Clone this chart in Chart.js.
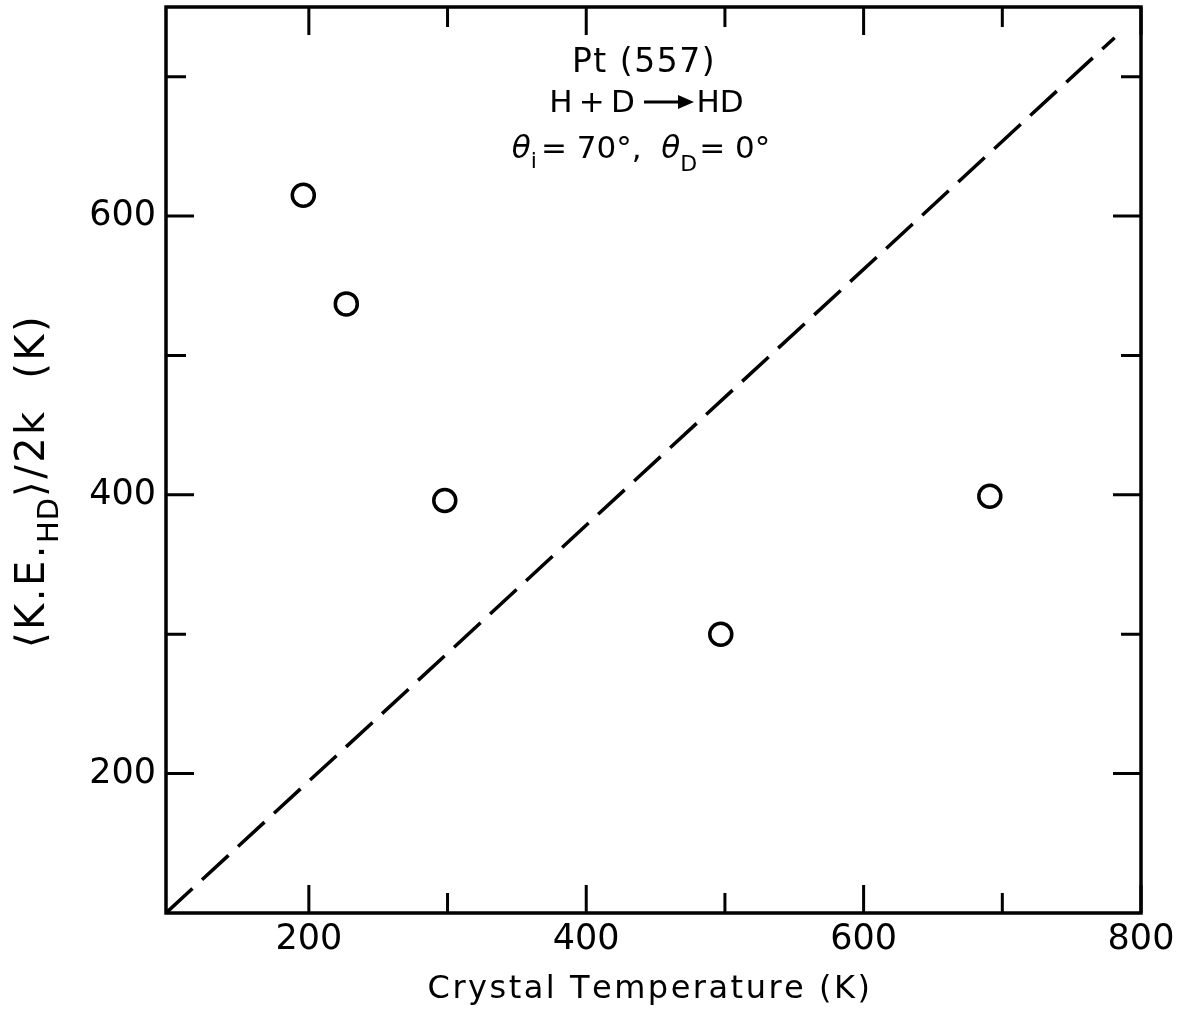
<!DOCTYPE html>
<html>
<head>
<meta charset="utf-8">
<title>HD kinetic energy vs crystal temperature</title>
<script src="https://cdn.jsdelivr.net/npm/chart.js@4/dist/chart.umd.min.js"></script>
<style>
    html, body { margin: 0; padding: 0; background: #ffffff; }
    #wrap { width: 1181px; height: 1011px; }
</style>
</head>
<body>
<div id="wrap"><canvas id="keChart" width="1181" height="1011"></canvas></div>
<script>
// Data
const crystalTemp = [196, 227, 298, 497, 691];
const keHD = [615, 537, 396, 300, 399];

// Dashed reference line (end points)
const refTemp = [97, 781];
const refKE = [100, 728];

// Axes
const xTicks = [200, 300, 400, 500, 600, 700, 800];
const xLabels = [200, 400, 600, 800];
const yTicks = [200, 300, 400, 500, 600, 700];
const yLabels = [200, 400, 600];

const FONT = '"DejaVu Sans", "Liberation Sans", sans-serif';

function setFont(ctx, r) {
    ctx.font = (r.italic ? 'italic ' : '') + r.size + 'px ' + FONT;
}

// width of one run, drawn char by char with letter spacing
function runWidth(ctx, r) {
    setFont(ctx, r);
    const sp = r.sp || 0;
    let w = 0;
    for (const ch of r.t) w += ctx.measureText(ch).width + sp;
    return w + (r.gap || 0);
}

// draw a row of text pieces (with sub/superscripts) centred on cx
function drawRuns(ctx, runs, cx, baseline) {
    let total = 0;
    runs.forEach(r => { r.w = runWidth(ctx, r); total += r.w; });
    let x = cx - total / 2;
    runs.forEach(r => {
        setFont(ctx, r);
        let cxr = x;
        for (const ch of r.t) {
            ctx.fillText(ch, cxr, baseline + (r.dy || 0));
            cxr += ctx.measureText(ch).width + (r.sp || 0);
        }
        x += r.w;
    });
}

// frame + inward ticks on all four sides, titles and notes
const framePlugin = {
    id: 'framePlugin',
    afterDraw(chart) {
        const ctx = chart.ctx;
        const area = chart.chartArea;
        const xs = chart.scales.x;
        const ys = chart.scales.y;
        ctx.save();
        ctx.strokeStyle = '#000';
        ctx.fillStyle = '#000';
        ctx.lineWidth = 3.5;
        ctx.strokeRect(area.left, area.top, area.right - area.left, area.bottom - area.top);

        ctx.lineWidth = 3;
        xTicks.forEach(v => {
            const px = xs.getPixelForValue(v);
            const len = xLabels.includes(v) ? 28 : 20;
            ctx.beginPath();
            ctx.moveTo(px, area.bottom);
            ctx.lineTo(px, area.bottom - len);
            ctx.moveTo(px, area.top);
            ctx.lineTo(px, area.top + len);
            ctx.stroke();
        });
        yTicks.forEach(v => {
            const py = ys.getPixelForValue(v);
            const len = yLabels.includes(v) ? 28 : 20;
            ctx.beginPath();
            ctx.moveTo(area.left, py);
            ctx.lineTo(area.left + len, py);
            ctx.moveTo(area.right, py);
            ctx.lineTo(area.right - len, py);
            ctx.stroke();
        });

        ctx.textBaseline = 'alphabetic';

        // x title
        drawRuns(ctx, [{ t: 'Crystal Temperature (K)', size: 32, sp: 2.5 }], 650, 998);

        // y title, rotated, with subscript
        ctx.save();
        ctx.translate(44, 481);
        ctx.rotate(-Math.PI / 2);
        drawRuns(ctx, [
            { t: '⟨K.E.', size: 40, sp: 2.5 },
            { t: 'HD', size: 29, dy: 14, sp: 1 },
            { t: '⟩/2k  (K)', size: 40, sp: 2.5 }
        ], 0, 0);
        ctx.restore();

        // notes in the top of the plot
        drawRuns(ctx, [{ t: 'Pt (557)', size: 33, sp: 1.5 }], 644, 72);

        drawRuns(ctx, [{ t: 'H\u2009+\u2009D', size: 31 }], 592, 112);
        drawRuns(ctx, [{ t: 'HD', size: 31 }], 720, 112);
        ctx.lineWidth = 3;
        ctx.beginPath();
        ctx.moveTo(644, 102);
        ctx.lineTo(682, 102);
        ctx.stroke();
        ctx.beginPath();
        ctx.moveTo(694, 102);
        ctx.lineTo(678, 95);
        ctx.lineTo(678, 109);
        ctx.closePath();
        ctx.fill();

        drawRuns(ctx, [
            { t: 'θ', size: 31, italic: true },
            { t: 'i', size: 22, dy: 10, gap: 4 },
            { t: '= 70°,  ', size: 31 },
            { t: 'θ', size: 31, italic: true },
            { t: 'D', size: 22, dy: 13, gap: 2 },
            { t: '= 0°', size: 31 }
        ], 641, 158);
        ctx.restore();
    }
};

const ctx = document.getElementById('keChart').getContext('2d');
new Chart(ctx, {
    type: 'scatter',
    data: {
        datasets: [{
            label: 'HD',
            data: crystalTemp.map((t, i) => ({ x: t, y: keHD[i] })),
            pointStyle: 'circle',
            pointRadius: 11,
            pointBorderWidth: 3.5,
            pointBorderColor: '#000',
            pointBackgroundColor: 'rgba(255,255,255,0)',
            showLine: false
        }, {
            label: 'reference',
            data: refTemp.map((t, i) => ({ x: t, y: refKE[i] })),
            showLine: true,
            borderColor: '#000',
            borderWidth: 3.5,
            borderDash: [36, 13],
            pointRadius: 0,
            fill: false
        }]
    },
    options: {
        responsive: false,
        animation: false,
        devicePixelRatio: 1,
        layout: { autoPadding: false, padding: { top: 7, right: 40, left: 0, bottom: 0 } },
        plugins: {
            legend: { display: false },
            tooltip: { enabled: false }
        },
        scales: {
            x: {
                type: 'linear',
                min: 97,
                max: 800,
                afterBuildTicks: (scale) => { scale.ticks = xTicks.map(v => ({ value: v })); },
                afterFit: (scale) => {
                    scale.height = 98;
                    scale.paddingLeft = 0;
                    scale.paddingRight = 0;
                },
                grid: { display: false, drawTicks: false },
                border: { display: false },
                ticks: {
                    color: '#000',
                    font: { family: FONT, size: 35 },
                    padding: 6,
                    autoSkip: false,
                    maxRotation: 0,
                    callback: (v) => xLabels.includes(v) ? String(v) : ''
                }
            },
            y: {
                type: 'linear',
                min: 100,
                max: 750,
                afterBuildTicks: (scale) => { scale.ticks = yTicks.map(v => ({ value: v })); },
                afterFit: (scale) => {
                    scale.width = 166;
                    scale.paddingTop = 0;
                    scale.paddingBottom = 0;
                },
                grid: { display: false, drawTicks: false },
                border: { display: false },
                ticks: {
                    color: '#000',
                    font: { family: FONT, size: 35 },
                    padding: 10,
                    autoSkip: false,
                    callback: (v) => yLabels.includes(v) ? String(v) : ''
                }
            }
        }
    },
    plugins: [framePlugin]
});
</script>
</body>
</html>
